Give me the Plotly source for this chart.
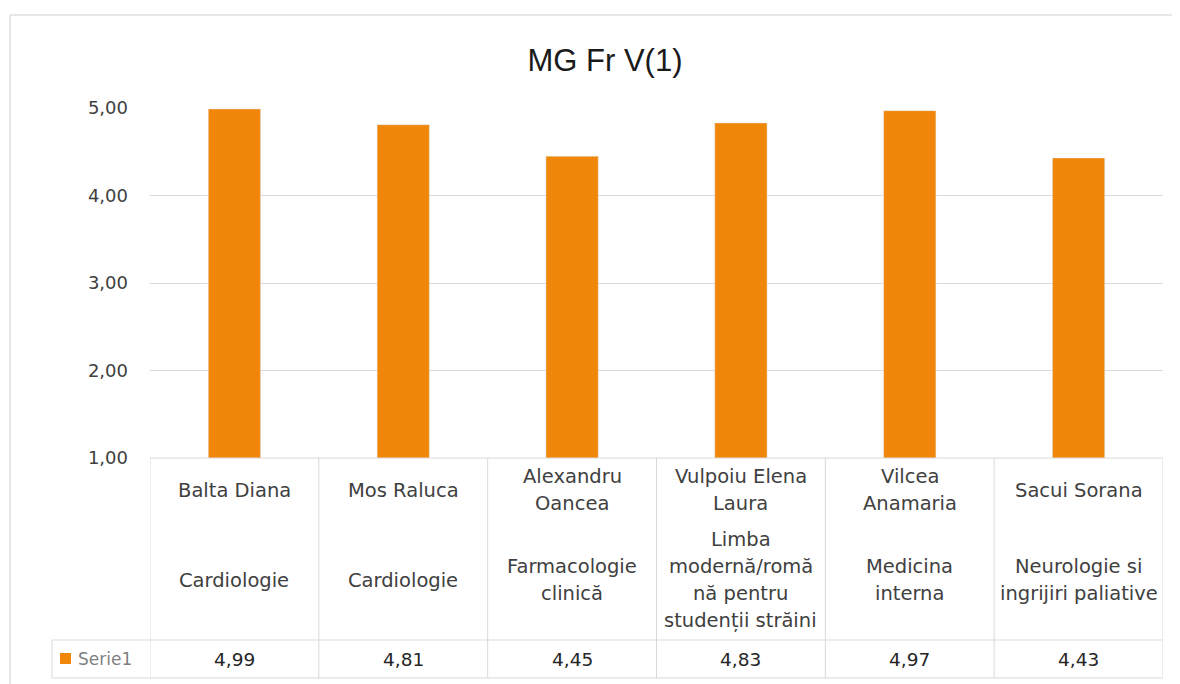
import plotly.graph_objects as go

# data
names = ['Balta Diana', 'Mos Raluca', 'Alexandru<br>Oancea', 'Vulpoiu Elena<br>Laura',
         'Vilcea<br>Anamaria', 'Sacui Sorana']
specialties = ['Cardiologie', 'Cardiologie', 'Farmacologie<br>clinică',
               'Limba<br>modernă/romă<br>nă pentru<br>studenții străini',
               'Medicina<br>interna', 'Neurologie si<br>ingrijiri paliative']
values = [4.99, 4.81, 4.45, 4.83, 4.97, 4.43]
value_labels = ['4,99', '4,81', '4,45', '4,83', '4,97', '4,43']
series_name = 'Serie1'
title = 'MG Fr V(1)'

# page body has an 8px margin, so shift everything back by 8px
OFF = 8
W, H = 1180 - OFF, 684 - OFF
# plot area in page pixels: x 150..1163, y 108..458
L, R, T, B = 150 - OFF, 1180 - 1163, 108 - OFF, 684 - 458
plot_h = H - T - B
plot_w = W - L - R

orange = '#F0870A'
grid = '#d9d9d9'
txt = '#404040'
font = 'DejaVu Sans'
tfont = 'Liberation Sans'
line_h = 26.7


def py(p):
    # page pixel y -> paper y
    return (H - B - (p - OFF)) / plot_h


def px(p):
    # page pixel x -> paper x
    return (p - OFF - L) / plot_w


def add_lines(ann, xi, label, center, size, color):
    # put each text line on its own, to get Excel-like line spacing
    parts = label.split('<br>')
    top = center - line_h * (len(parts) - 1) / 2
    for k, part in enumerate(parts):
        ann.append(dict(x=xi, xref='x', y=py(top + k * line_h), yref='paper', text=part,
                        showarrow=False, font=dict(size=size, color=color, family=font),
                        xanchor='center', yanchor='middle'))


cats = list(range(len(values)))

fig = go.Figure()
fig.add_trace(go.Bar(x=cats, y=values, marker_color=orange, name=series_name))

shapes = []
annotations = []

# table grid
n = len(values)
for i in range(n + 1):
    shapes.append(dict(type='line', xref='x', yref='paper', x0=i - 0.5, x1=i - 0.5,
                       y0=py(458), y1=py(678), line=dict(color=grid, width=1)))
shapes.append(dict(type='line', xref='paper', yref='paper', x0=0, x1=1,
                   y0=py(458), y1=py(458), line=dict(color=grid, width=1)))
for yy in [640, 678]:
    shapes.append(dict(type='line', xref='paper', yref='paper', x0=px(52), x1=1,
                       y0=py(yy), y1=py(yy), line=dict(color=grid, width=1)))
shapes.append(dict(type='line', xref='paper', yref='paper', x0=px(52), x1=px(52),
                   y0=py(640), y1=py(678), line=dict(color=grid, width=1)))
# legend key
shapes.append(dict(type='rect', xref='paper', yref='paper', x0=px(60), x1=px(71),
                   y0=py(653), y1=py(664), fillcolor=orange, line=dict(width=0)))
# outer frame
shapes.append(dict(type='line', xref='paper', yref='paper', x0=px(10), x1=px(1180),
                   y0=py(15), y1=py(15), line=dict(color='#cfcfcf', width=1)))
shapes.append(dict(type='line', xref='paper', yref='paper', x0=px(10), x1=px(10),
                   y0=py(15), y1=py(684), line=dict(color='#cfcfcf', width=1)))

for i in range(n):
    add_lines(annotations, i, names[i], 490, 19.5, txt)
    add_lines(annotations, i, specialties[i], 580, 19.5, txt)
    add_lines(annotations, i, value_labels[i], 659, 18.5, '#262626')

annotations.append(dict(x=px(76), xref='paper', y=py(659), yref='paper', text=series_name,
                        showarrow=False, font=dict(size=17, color='#7f7f7f', family=font),
                        xanchor='left', yanchor='middle'))

fig.update_layout(
    width=W, height=H,
    margin=dict(l=L, r=R, t=T, b=B),
    paper_bgcolor='white', plot_bgcolor='white',
    separators=',.',
    title=dict(text=title, x=(605 - OFF) / W, xanchor='center',
               y=1 - (60 - OFF) / H, yanchor='middle',
               font=dict(size=31, color='#1a1a1a', family=tfont)),
    showlegend=False,
    bargap=0.69,
    xaxis=dict(range=[-0.5, n - 0.5], showticklabels=False, showgrid=False,
               zeroline=False, showline=False, fixedrange=True),
    yaxis=dict(range=[1, 5], tickvals=[1, 2, 3, 4, 5], tickformat='.2f',
               showgrid=True, gridcolor=grid, gridwidth=1, zeroline=False,
               showline=False, ticklabelstandoff=21,
               tickfont=dict(size=18, color='#404040', family=font)),
    shapes=shapes,
    annotations=annotations,
    font=dict(family=font),
)

fig.write_html('out.html')
